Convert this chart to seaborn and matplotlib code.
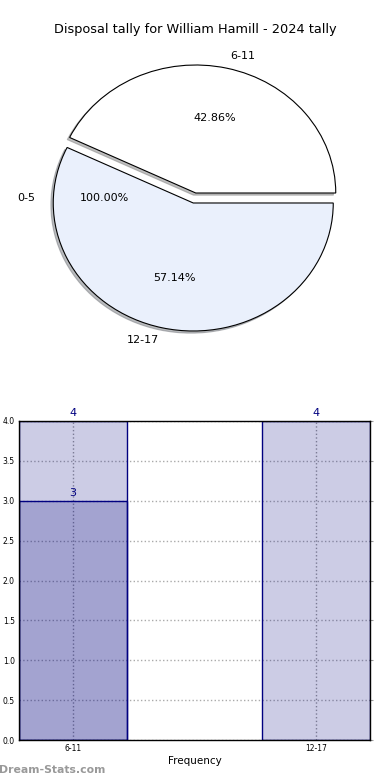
import numpy as np
import pandas as pd
import matplotlib
matplotlib.use("Agg")
import matplotlib.pyplot as plt
import seaborn as sns

# ---- data ----
title = "Disposal tally for William Hamill - 2024 tally"
pie_labels = ["6-11", "12-17"]
pie_values = [3, 4]
pie_colors = ["#ffffff", "#eaf0fc"]
empty_label = "0-5"
empty_pct = "100.00%"

bar_order = ["6-11", "", "12-17"]
light_bins = ["6-11", "12-17"]
light_counts = [4, 4]
dark_bins = ["6-11"]
dark_counts = [3]
yticks = [0.0, 0.5, 1.0, 1.5, 2.0, 2.5, 3.0, 3.5, 4.0]

sns.set_style("white")
plt.rcParams["font.family"] = ["DejaVu Sans"]
plt.rcParams["text.color"] = "black"
plt.rcParams["axes.labelcolor"] = "black"
plt.rcParams["xtick.color"] = "black"
plt.rcParams["ytick.color"] = "black"

fig = plt.figure(figsize=(3.9, 7.8), dpi=100)

# ---- pie ----
explode = 0.04
axp = fig.add_axes([19.5 / 390, 1 - 358 / 780, 350 / 390, 320 / 780])
wedges, texts, autotexts = axp.pie(
    pie_values, labels=pie_labels, colors=pie_colors, explode=[explode, explode],
    shadow=dict(ox=-0.012, oy=-0.012, shade=0.5), autopct="%.2f%%",
    pctdistance=0.6, labeldistance=1.1, startangle=0,
    wedgeprops=dict(edgecolor="black", linewidth=0.8),
    textprops=dict(fontsize=8))
axp.set_aspect("auto")
axp.set_xlim(-1.25, 1.25)
axp.set_ylim(-1.25, 1.25)
# zero-size category at 180 degrees (exploded like the others)
ang = np.deg2rad(180)
axp.text((1.1 + explode) * np.cos(ang), (1.1 + explode) * np.sin(ang), empty_label,
         ha="right", va="center", fontsize=8)
axp.text((0.6 + explode) * np.cos(ang), (0.6 + explode) * np.sin(ang), empty_pct,
         ha="center", va="center", fontsize=8)
fig.text(0.5, 1 - 30 / 780, title, ha="center", va="center", fontsize=9.3)

# ---- bars ----
axb = fig.add_axes([19 / 390, 40 / 780, 351 / 390, 319 / 780])
df_light = pd.DataFrame({"bin": light_bins, "count": light_counts})
df_dark = pd.DataFrame({"bin": dark_bins, "count": dark_counts})
w = 0.89
sns.barplot(data=df_light, x="bin", y="count", order=bar_order, ax=axb,
            color="navy", width=w, saturation=1)
sns.barplot(data=df_dark, x="bin", y="count", order=bar_order, ax=axb,
            color="navy", width=w, saturation=1)
for cont in axb.containers:
    for bar in cont:
        bar.set_alpha(None)
        bar.set_facecolor((0, 0, 0.5, 0.2))
        bar.set_edgecolor((0, 0, 0.5, 1))
        bar.set_linewidth(1)
    axb.bar_label(cont, fmt="%d", color="navy", fontsize=8, padding=2)

pos = [bar_order.index(b) for b in light_bins]
axb.set_xticks(pos)
axb.set_xticklabels(light_bins, fontsize=5.5)
axb.set_xlim(-w / 2, len(bar_order) - 1 + w / 2)
axb.set_ylim(yticks[0], yticks[-1])
axb.set_yticks(yticks)
axb.set_yticklabels([f"{t:.1f}" for t in yticks], fontsize=5.5)
axb.yaxis.grid(True, linestyle=":", color="#aaaaaa", linewidth=1)
axb.xaxis.grid(True, linestyle=":", color="#999999", linewidth=1)
axb.set_axisbelow(True)
axb.tick_params(axis="both", length=2, color="#999999", pad=1, right=True)
axb.set_xlabel("Frequency", fontsize=7.5, labelpad=2)
axb.set_ylabel("")
for s in axb.spines.values():
    s.set_color("black")
    s.set_linewidth(1)
    s.set_zorder(5)

fig.text(-1 / 390, 1 - 770 / 780, "Dream-Stats.com", ha="left", va="center",
         fontsize=7.8, fontweight="bold", color="#999999")

fig.savefig("out.png", dpi=100)
